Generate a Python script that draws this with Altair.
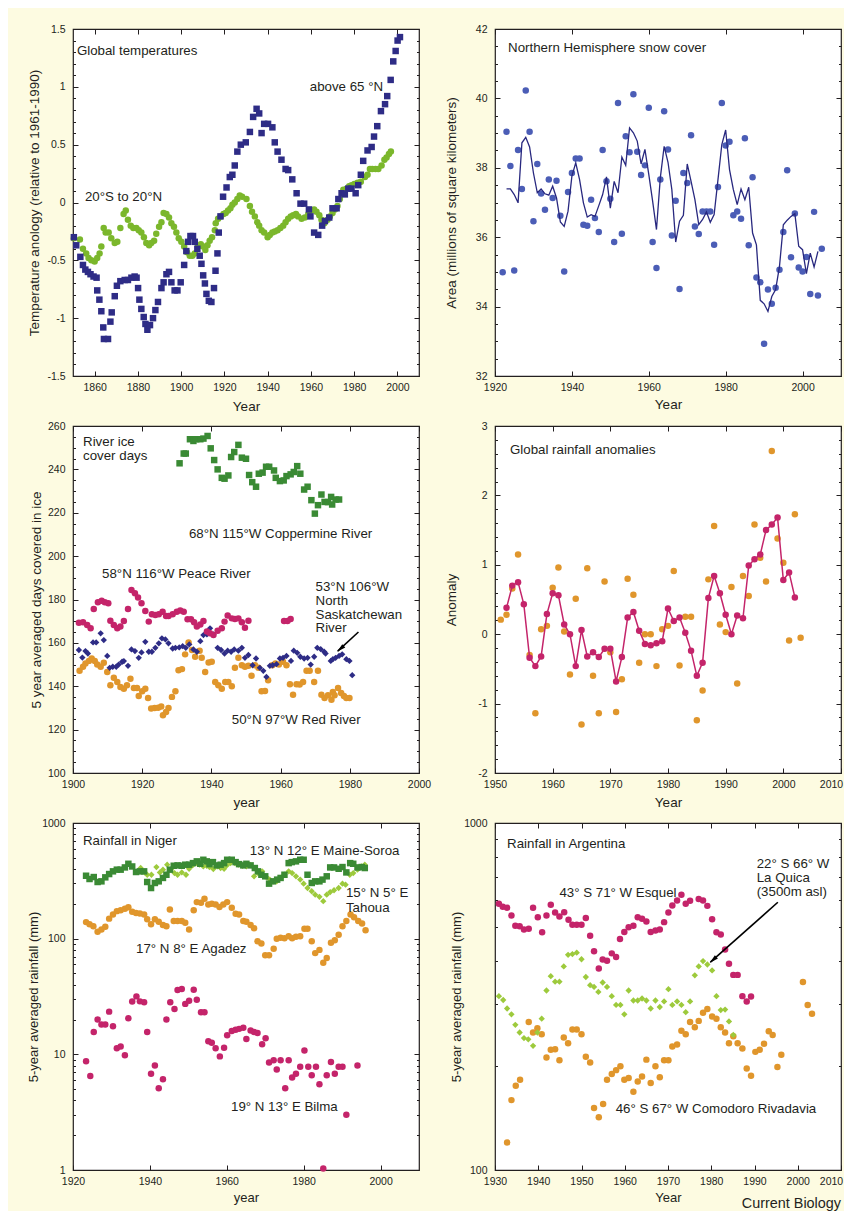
import altair as alt
import pandas as pd

# ---------------- data ----------------
# Panel 1: global temperatures
arctic_year = [1850.4,1851.5,1853.4,1854.6,1855.7,1856.9,1858.1,1859.5,1860.9,1861.2,
               1862.2,1863.1,1864.0,1864.3,1866.2,1867.3,1867.9,1869.3,1870.3,1871.9,
               1873.9,1875.4,1877.0,1878.5,1879.4,1880.1,1880.7,1881.6,1882.7,1883.5,
               1884.4,1885.6,1887.0,1888.1,1889.3,1890.9,1891.9,1893.2,1894.4,1895.5,
               1897.0,1898.3,1899.8,1901.4,1902.4,1903.2,1904.3,1905.5,1906.3,1907.5,
               1908.6,1909.4,1910.2,1911.0,1911.7,1912.8,1914.0,1915.2,1915.9,1916.8,
               1917.4,1918.2,1919.4,1921.0,1922.5,1923.7,1924.8,1926.0,1927.6,1929.9,
               1931.8,1933.3,1934.9,1936.1,1937.2,1938.4,1940.2,1942.2,1943.3,1944.6,
               1946.4,1948.3,1949.5,1951.4,1953.4,1955.2,1956.9,1959.1,1959.8,1961.5,
               1963.4,1965.2,1966.5,1968.5,1970.0,1971.9,1972.7,1974.2,1975.7,1977.3,
               1978.8,1980.7,1981.9,1983.1,1984.2,1986.2,1988.1,1989.2,1990.7,1992.4,
               1994.3,1995.3,1996.9,1998.1,1999.2,2000.1,2001.2]
arctic_temp = [-0.30,-0.37,-0.47,-0.54,-0.58,-0.60,-0.62,-0.64,-0.65,-0.76,
               -0.84,-0.94,-1.08,-1.18,-1.18,-1.03,-0.95,-0.81,-0.72,-0.68,
               -0.67,-0.67,-0.65,-0.64,-0.65,-0.74,-0.84,-0.92,-0.99,-1.05,
               -1.10,-1.06,-1.00,-0.93,-0.86,-0.74,-0.69,-0.62,-0.60,-0.69,
               -0.76,-0.76,-0.69,-0.54,-0.42,-0.34,-0.29,-0.29,-0.34,-0.40,
               -0.46,-0.53,-0.63,-0.70,-0.79,-0.85,-0.86,-0.74,-0.59,-0.44,
               -0.26,-0.12,0.05,0.13,0.22,0.24,0.32,0.44,0.50,0.52,
               0.61,0.74,0.81,0.77,0.60,0.68,0.68,0.65,0.52,0.44,
               0.37,0.29,0.28,0.20,0.08,-0.01,-0.01,-0.06,-0.12,-0.26,
               -0.28,-0.20,-0.16,-0.13,-0.05,-0.05,0.03,0.08,0.07,0.12,
               0.12,0.08,0.15,0.24,0.36,0.45,0.48,0.57,0.66,0.79,
               0.85,0.92,1.06,1.22,1.31,1.40,1.43]
tropic_year = [1850.4,1853.2,1854.6,1856.1,1857.2,1858.5,1860.0,1861.2,1862.3,1863.1,
               1864.2,1865.1,1866.5,1867.7,1869.3,1870.5,1871.9,1873.4,1874.4,1875.4,
               1876.7,1877.9,1879.3,1880.4,1881.6,1882.8,1883.9,1885.2,1886.2,1887.5,
               1888.5,1889.8,1890.9,1891.9,1893.2,1894.4,1895.5,1896.7,1897.8,1898.9,
               1900.1,1901.4,1902.7,1904.0,1905.2,1906.3,1907.8,1909.1,1910.2,1911.2,
               1912.2,1913.2,1914.3,1915.6,1916.0,1917.1,1918.3,1919.6,1920.6,1921.7,
               1922.8,1923.7,1924.8,1926.0,1927.1,1928.2,1930.2,1931.8,1932.8,1934.1,
               1935.2,1936.1,1937.2,1938.4,1940.0,1941.0,1942.2,1943.3,1944.6,1945.9,
               1947.2,1948.3,1949.5,1950.7,1951.8,1953.1,1954.1,1955.7,1957.2,1958.8,
               1960.3,1961.5,1962.6,1963.9,1964.9,1966.2,1967.7,1968.8,1970.0,1971.1,
               1972.3,1973.4,1975.0,1976.5,1977.7,1978.8,1980.1,1981.6,1983.1,1985.0,
               1986.2,1987.3,1988.4,1989.9,1991.2,1992.7,1994.0,1995.0,1996.1,1997.0]
tropic_temp = [-0.31,-0.32,-0.40,-0.44,-0.48,-0.50,-0.51,-0.48,-0.44,-0.38,
               -0.22,-0.26,-0.26,-0.31,-0.35,-0.34,-0.22,-0.10,-0.07,-0.15,
               -0.20,-0.22,-0.22,-0.24,-0.26,-0.30,-0.35,-0.37,-0.35,-0.33,
               -0.27,-0.21,-0.17,-0.09,-0.10,-0.13,-0.18,-0.21,-0.26,-0.31,
               -0.34,-0.38,-0.43,-0.46,-0.46,-0.44,-0.38,-0.36,-0.38,-0.41,
               -0.37,-0.33,-0.30,-0.24,-0.18,-0.14,-0.12,-0.10,-0.09,-0.07,
               -0.05,-0.02,0.00,0.03,0.06,0.05,0.03,-0.03,-0.08,-0.12,
               -0.17,-0.20,-0.24,-0.26,-0.30,-0.28,-0.26,-0.25,-0.24,-0.22,
               -0.20,-0.17,-0.14,-0.12,-0.11,-0.10,-0.12,-0.14,-0.13,-0.10,
               -0.07,-0.06,-0.08,-0.11,-0.15,-0.18,-0.15,-0.12,-0.09,-0.06,
               -0.03,0.03,0.11,0.12,0.14,0.15,0.16,0.17,0.18,0.22,
               0.24,0.29,0.29,0.29,0.29,0.32,0.37,0.39,0.42,0.44]

# Panel 2: Northern Hemisphere snow cover
snow_year = list(range(1922, 2006))
snow_area = [34.99,39.04,38.05,35.04,38.51,37.39,40.23,39.04,36.46,38.11,
             37.26,36.79,37.66,37.13,37.63,36.62,35.01,37.30,37.85,38.27,
             38.27,36.36,36.33,37.08,36.55,36.15,38.51,37.61,37.11,35.86,
             39.87,36.10,38.91,38.45,40.12,38.46,37.79,38.07,39.73,35.86,
             35.11,37.66,39.63,38.53,36.05,37.05,34.51,37.85,37.56,38.94,
             36.31,36.09,36.74,36.74,36.74,35.78,37.45,39.87,38.64,38.75,
             36.63,36.74,36.53,38.85,35.77,37.73,34.84,34.70,32.93,34.49,
             34.08,34.54,35.06,36.15,37.93,35.42,36.68,35.13,35.01,35.43,
             34.36,36.73,34.32,35.67]
snow_run_year = list(range(1923, 2005))
snow_run = [37.39,37.39,37.23,36.99,38.72,38.88,38.60,37.85,37.28,37.39,
            37.25,37.21,37.47,37.13,36.44,36.31,36.75,37.76,38.14,37.66,
            36.99,36.58,36.65,36.60,36.91,37.23,37.74,36.84,37.61,37.28,
            38.31,38.07,39.15,39.01,38.77,38.11,38.53,37.81,37.04,36.22,
            37.71,38.62,38.16,37.37,35.86,36.46,36.63,38.11,37.61,37.08,
            36.36,36.51,36.73,36.43,36.65,37.66,38.67,39.09,37.95,37.37,
            36.94,37.39,37.08,37.44,36.12,35.78,34.18,34.08,33.86,34.29,
            34.49,35.16,36.36,36.49,36.60,36.68,35.74,35.64,34.95,35.54,
            35.14,35.59]

# Panel 3: river ice cover days
copper_year = [1930.8,1932.0,1932.6,1933.8,1934.8,1935.6,1936.8,1937.7,1938.9,1939.8,
               1940.8,1941.8,1943.0,1943.8,1944.9,1945.7,1946.6,1947.8,1948.8,1950.0,
               1950.9,1951.8,1952.9,1953.7,1954.8,1955.8,1956.7,1958.1,1958.6,1959.8,
               1960.9,1961.7,1962.9,1963.8,1964.8,1965.7,1966.8,1967.8,1968.9,1969.9,
               1970.8,1971.8,1972.7,1973.7,1974.6,1974.9,1975.9,1976.9]
copper_days = [242.8,247.3,247.3,253.9,253.1,253.9,253.9,254.2,255.4,249.7,
               244.3,240.0,236.1,235.7,237.2,245.7,248.0,251.3,245.4,244.9,
               237.4,234.1,232.0,238.0,238.5,241.2,241.2,239.5,236.1,234.6,
               234.9,236.9,237.7,238.8,241.5,238.0,230.7,232.0,225.8,219.6,
               223.5,228.4,225.0,224.9,227.3,223.8,226.1,226.1]
peace_year = [1901.7,1902.9,1904.1,1905.1,1906.0,1907.2,1908.3,1909.2,1910.2,1910.8,
              1911.8,1912.8,1913.7,1914.7,1915.9,1916.9,1917.9,1918.8,1919.8,1920.9,
              1921.9,1922.8,1923.8,1924.8,1925.9,1926.9,1927.6,1928.8,1930.0,1931.0,
              1932.0,1933.1,1934.1,1935.0,1935.8,1936.8,1937.7,1938.7,1939.6,1940.6,
              1941.8,1943.0,1943.8,1944.7,1945.9,1946.8,1947.8,1948.8,1949.7,1950.7,
              1961.0,1962.0,1962.9]
peace_days = [169.3,169.5,168.2,166.7,175.6,178.7,179.4,178.7,178.3,170.2,
              168.2,166.7,167.5,170.1,175.6,184.4,182.9,180.9,178.3,174.7,
              169.8,173.2,172.9,173.2,174.4,172.4,172.4,173.2,174.4,174.9,
              174.4,170.9,170.9,169.5,167.5,168.5,170.1,165.2,164.4,163.6,
              165.6,166.7,169.8,172.6,171.3,171.0,171.3,169.5,167.0,170.2,
              170.1,170.1,171.0]
sask_year = [1901.7,1902.7,1903.6,1904.3,1905.8,1906.7,1908.0,1908.9,1909.9,1910.6,
             1911.5,1912.5,1913.2,1914.2,1914.7,1915.9,1916.9,1917.9,1919.0,1919.8,
             1920.9,1921.9,1922.8,1923.8,1924.8,1925.7,1926.7,1927.6,1928.8,1929.6,
             1930.7,1931.7,1932.6,1933.6,1934.8,1935.8,1936.8,1937.7,1938.7,1939.6,
             1940.6,1941.8,1942.8,1943.8,1944.7,1945.7,1946.6,1947.8,1948.8,1949.7,
             1950.7,1951.9,1952.9,1954.0,1955.0,1955.9,1956.9,1957.7,1958.8,1959.8,
             1960.7,1961.7,1963.0,1963.8,1964.8,1965.7,1966.8,1967.8,1968.7,1969.7,
             1970.6,1971.6,1972.6,1973.0,1974.5,1975.1,1975.9,1976.9,1977.8,1979.0,
             1979.9,1980.7]
sask_days = [156.7,153.2,156.2,155.1,160.2,160.2,164.4,161.3,154.0,148.5,
             149.0,149.0,150.0,151.3,151.6,149.4,157.0,156.2,153.1,155.6,
             160.5,155.9,155.9,157.7,159.8,162.1,161.6,159.8,157.4,157.7,
             157.9,158.5,157.7,159.3,157.0,155.9,160.8,163.6,163.9,166.7,
             163.9,157.7,156.7,155.1,156.4,155.9,157.0,156.4,157.7,153.1,
             154.4,149.7,152.8,148.5,147.1,144.3,149.4,149.7,150.2,152.8,
             153.1,154.0,151.7,156.4,155.4,153.6,152.8,153.1,150.0,153.6,
             157.7,157.1,155.9,155.1,151.7,152.5,153.1,154.0,154.7,152.5,
             151.7,145.1]
red_year = [1901.9,1902.9,1903.6,1904.6,1905.4,1906.3,1907.0,1908.0,1908.9,1909.9,
            1910.8,1911.8,1912.8,1913.7,1914.7,1915.6,1916.6,1917.6,1918.5,1919.0,
            1920.0,1920.9,1921.7,1922.6,1923.6,1924.6,1925.5,1926.0,1926.9,1927.6,
            1928.6,1929.6,1930.5,1931.5,1932.4,1933.4,1934.4,1935.3,1936.6,1937.2,
            1938.2,1939.2,1940.1,1941.1,1942.0,1943.0,1944.0,1944.9,1945.9,1946.8,
            1947.8,1948.8,1949.7,1950.7,1951.6,1952.6,1953.6,1954.5,1955.5,1956.4,
            1957.6,1958.5,1959.5,1960.7,1961.7,1962.7,1963.6,1964.6,1965.5,1966.5,
            1967.5,1968.4,1969.7,1970.8,1971.8,1972.7,1973.7,1974.7,1975.1,1975.6,
            1976.6,1977.5,1978.3,1979.0,1979.9]
red_days = [147.1,149.0,150.5,151.7,152.8,151.7,150.0,149.0,150.8,146.6,
            140.5,143.9,142.0,139.7,138.9,140.5,143.5,139.2,139.2,135.5,
            137.7,138.9,134.6,129.7,130.0,130.1,130.7,126.6,128.1,130.0,
            135.1,137.7,147.4,147.9,154.7,160.2,156.7,153.6,156.4,153.1,
            146.6,151.0,151.3,142.0,140.5,138.9,142.0,142.0,140.0,148.5,
            153.1,149.7,149.0,149.4,144.8,149.7,148.5,137.7,137.8,142.8,
            149.7,150.5,150.0,151.3,149.7,140.9,136.1,140.9,140.8,142.0,
            147.1,147.1,142.0,147.1,136.1,134.6,135.8,133.8,137.4,135.8,
            139.2,136.9,135.5,134.6,134.6]

# Panel 4: global rainfall anomalies
rain_line_year = list(range(1952, 2003))
rain_line = [0.38,0.70,0.75,0.43,-0.34,-0.46,-0.32,0.29,0.59,0.56,
             0.14,0.00,-0.46,0.06,-0.32,-0.26,-0.33,-0.21,-0.21,-0.68,
             -0.33,0.24,0.32,0.05,-0.14,-0.16,-0.13,-0.10,0.37,0.19,
             0.24,0.02,-0.24,-0.60,-0.41,0.52,0.84,0.59,0.28,0.00,
             0.27,0.23,0.99,1.08,1.15,1.50,1.58,1.68,0.78,0.89,
             0.53]
rain_pts_year = [1951, 1952, 1953, 1954] + list(range(1956, 2004))
rain_pts = [0.21,0.28,0.66,1.15,-0.30,-1.14,0.07,0.12,0.67,0.96,
            0.04,-0.58,0.51,-1.30,0.95,-0.60,-1.14,0.76,-0.26,-1.12,
            -0.65,0.80,0.57,-0.41,0.00,0.00,-0.46,0.07,0.12,0.91,
            -0.45,0.25,0.25,-1.24,-0.81,0.79,1.56,0.14,0.03,0.68,
            -0.71,0.84,0.55,1.58,1.10,0.76,2.64,1.38,1.03,-0.09,
            1.73,-0.05]

# Panel 5: rainfall in Niger (mm)
maine_year = [1923.4,1924.3,1925.4,1926.4,1927.4,1928.4,1929.4,1930.4,1931.4,1932.4,
              1933.5,1934.4,1935.4,1936.4,1937.4,1938.5,1939.3,1940.3,1941.3,1942.3,
              1943.4,1944.3,1945.2,1946.2,1947.2,1948.3,1949.2,1950.2,1951.2,1952.2,
              1953.1,1953.9,1954.8,1955.5,1956.4,1957.4,1958.4,1959.3,1960.1,1961.3,
              1962.3,1963.2,1964.3,1965.1,1966.2,1967.3,1968.1,1969.0,1970.0,1971.0,
              1972.0,1973.1,1974.0,1975.0,1976.1,1976.9,1978.0,1979.1,1980.0,1981.0,
              1982.1,1983.0,1984.1,1984.9,1986.0,1986.9,1987.9,1989.1,1990.1,1991.1,
              1992.1,1992.9,1994.0,1995.1,1995.9]
maine_rain = [350,328,341,309,313,339,362,382,395,395,
              413,444,421,377,382,382,309,274,303,313,
              335,357,395,427,430,427,436,436,450,466,
              444,481,466,441,459,430,436,450,481,481,
              459,441,430,444,430,408,382,357,346,299,
              313,324,335,357,450,459,466,481,481,357,
              303,313,313,324,346,413,413,402,416,374,
              450,444,413,416,408]
tahoua_year = [1937.6,1938.6,1939.3,1940.4,1941.7,1942.6,1943.4,1944.5,1945.5,1946.4,
               1947.2,1948.3,1949.4,1950.2,1951.1,1952.2,1952.9,1953.9,1954.8,1955.5,
               1956.5,1957.6,1958.4,1959.3,1960.0,1961.0,1962.1,1963.0,1964.1,1965.1,
               1966.0,1967.1,1968.1,1969.2,1970.3,1971.2,1972.2,1973.0,1974.0,1975.0,
               1976.1,1977.0,1978.0,1979.1,1980.0,1981.0,1982.1,1983.0,1984.1,1985.1,
               1986.0,1986.9,1987.9,1989.1,1990.1,1990.9,1992.0,1992.9,1994.0,1995.0,
               1995.9]
tahoua_rain = [408,374,357,357,416,374,395,436,395,369,
               357,374,357,402,430,450,436,421,427,416,
               400,421,408,402,430,450,450,436,427,421,
               436,346,369,382,341,324,313,313,335,357,
               382,369,346,324,299,274,257,240,230,211,
               240,253,262,274,299,293,357,369,395,421,
               436]
agadez_year = [1923.4,1924.3,1925.3,1926.4,1927.4,1928.4,1929.4,1930.4,1931.4,1932.4,
               1933.5,1934.4,1935.4,1936.4,1937.4,1938.5,1939.3,1940.3,1941.3,1942.3,
               1943.4,1944.3,1945.2,1946.2,1947.2,1948.3,1949.2,1950.2,1951.4,1952.2,
               1953.3,1954.2,1955.2,1956.1,1957.1,1958.1,1959.1,1960.1,1961.3,1962.3,
               1963.2,1964.3,1965.1,1966.2,1967.1,1968.0,1969.0,1970.0,1971.0,1972.2,
               1973.0,1974.0,1975.0,1976.1,1977.0,1978.0,1979.1,1980.2,1981.0,1982.1,
               1983.0,1984.1,1985.1,1986.0,1987.1,1988.1,1989.1,1990.1,1991.1,1992.2,
               1993.1,1994.2,1995.2,1996.1]
agadez_rain = [139,133,128,115,120,127,149,162,173,176,
               181,187,171,167,165,162,147,133,147,140,
               131,128,179,142,142,142,137,120,176,207,
               204,221,197,200,197,188,197,207,185,164,
               162,142,140,131,123,95,91,72,72,82,
               100,102,101,105,101,104,105,122,122,95,
               75,80,62,68,92,97,108,128,142,162,
               153,142,135,118]
bilma_year = [1923.4,1924.5,1925.4,1926.4,1927.4,1928.4,1929.4,1930.4,1931.4,1932.4,
              1933.5,1934.4,1935.4,1936.5,1937.4,1938.5,1939.3,1940.3,1941.3,1942.3,
              1943.4,1944.3,1945.3,1946.4,1947.2,1948.3,1949.2,1950.2,1951.4,1952.2,
              1953.3,1954.2,1955.2,1956.1,1957.1,1958.2,1959.3,1960.1,1961.3,1962.3,
              1963.2,1964.3,1965.1,1966.2,1967.1,1968.0,1969.2,1970.1,1971.0,1972.2,
              1973.0,1974.0,1975.2,1976.1,1977.0,1978.0,1979.1,1980.2,1981.2,1982.1,
              1983.2,1984.1,1985.1,1986.0,1987.1,1988.1,1989.1,1990.1,1991.1,1994.0]
bilma_rain = [8.7,6.5,15.6,20.0,18.1,18.1,23.4,17.5,11.3,11.7,
              9.8,20.5,28.6,31.7,28.7,28.2,15.6,6.8,8.0,5.1,
              6.1,20.0,28.2,24.7,36.0,36.7,27.3,29.1,36.2,29.7,
              23.1,23.1,13.0,12.6,11.3,9.6,11.4,14.6,15.9,16.3,
              16.6,17.0,13.6,16.1,15.6,15.3,12.2,13.8,8.5,8.9,
              7.4,8.9,5.1,8.9,6.3,6.8,7.8,10.8,7.8,6.6,
              7.8,5.5,1.03,6.6,8.6,6.8,7.8,7.8,3.0,8.0]

# Panel 6: rainfall in Argentina (mm)
esquel_year = [1930.9,1931.8,1932.8,1933.8,1934.7,1935.7,1936.7,1937.8,1938.8,1939.9,
               1940.9,1941.9,1942.9,1943.9,1944.9,1946.0,1947.0,1947.9,1948.9,1950.0,
               1951.0,1952.0,1952.9,1954.0,1954.9,1955.9,1957.0,1958.0,1958.9,1959.9,
               1960.9,1962.0,1963.0,1964.0,1965.0,1966.0,1967.1,1968.1,1969.1,1970.1,
               1971.0,1972.1,1973.1,1974.1,1975.1,1977.1,1978.1,1979.1,1980.2,1981.2,
               1982.2,1983.2,1984.1,1985.1,1986.1,1987.2,1988.2,1989.2]
esquel_rain = [585,574,570,541,506,504,493,496,570,535,
               484,541,581,552,538,553,526,509,509,509,
               532,473,427,381,404,401,421,411,463,485,
               501,506,535,530,520,485,490,493,518,552,
               578,598,621,585,597,604,598,577,528,484,
               477,432,393,365,365,317,306,316]
quica_year = [1930.9,1931.9,1932.8,1933.8,1934.7,1935.7,1936.7,1937.7,1938.8,1939.8,
              1940.8,1941.9,1942.9,1943.9,1944.9,1945.9,1946.9,1947.9,1948.9,1950.0,
              1951.0,1952.0,1952.9,1953.9,1954.9,1955.9,1957.0,1958.0,1959.0,1959.9,
              1960.9,1962.0,1963.0,1964.0,1965.0,1966.0,1967.1,1968.1,1969.1,1970.1,
              1971.0,1972.1,1973.1,1974.1,1975.1,1976.2,1977.1,1978.1,1979.1,1980.2,
              1981.2,1982.2,1983.2,1984.1,1985.1]
quica_rain = [317,309,292,281,262,249,240,238,228,249,
              273,329,362,349,349,386,417,419,423,405,
              360,341,337,326,347,337,317,299,299,281,
              329,308,308,312,308,292,308,295,306,332,
              299,306,299,285,306,364,386,400,391,376,
              317,289,290,268,245]
comodoro_year = [1932.8,1933.8,1934.8,1935.8,1937.8,1938.8,1939.8,1940.8,1941.9,1942.9,
                 1943.9,1944.9,1945.9,1946.9,1947.9,1948.9,1950.0,1951.0,1952.0,1952.9,
                 1954.0,1955.0,1955.9,1957.0,1958.0,1959.0,1959.9,1960.9,1962.0,1963.0,
                 1964.0,1965.0,1966.0,1967.1,1968.1,1969.1,1970.1,1971.0,1972.1,1973.1,
                 1974.1,1975.1,1976.2,1977.1,1978.1,1979.1,1980.2,1981.2,1982.2,1983.2,
                 1984.1,1985.1,1986.1,1987.2,1988.2,1989.2,1990.2,1991.2,1992.2,1993.3,
                 1994.2,1995.3,1996.2,2001.2,2002.3,2003.3]
comodoro_rain = [120,159,175,182,267,249,256,246,211,222,
                 223,207,241,232,254,254,246,212,204,151,
                 142,155,182,189,194,199,182,184,168,180,
                 186,208,178,199,185,207,207,227,230,252,
                 246,267,258,269,284,291,277,273,258,249,
                 232,243,232,224,196,187,219,222,231,251,
                 245,198,215,348,299,282]

# ---------------- styling ----------------
FONT = "Liberation Sans"
INK = "#231f20"
BG = "#fdfbe1"
NAVY = "#2e2c86"
LEAF = "#7bb72c"
SNOWDOT = "#4b5db6"
SNOWLINE = "#28287f"
DKGREEN = "#3a8a34"
LTGREEN = "#9dca3c"
MAGENTA = "#c4246a"
ORANGE = "#e0962c"
W, H = 346, 347
MAJ, MIN = 5, 2.5
ANN = 13.3
DOT = 42


def lin(dom):
    return alt.Scale(domain=dom, nice=False, zero=False)


def logsc(dom):
    return alt.Scale(type="log", domain=dom, nice=False)


def frame(xs, ys, xdom, ydom, xmaj, ymaj, ymin, xtitle, ytitle, title_x,
          lab=10.5, tit=13.5, title_y=23, pull_last=False):
    # invisible carrier: one point in the middle of the plot area
    ymid = (ydom[0] * ydom[1]) ** 0.5 if ydom[0] > 0 else (ydom[0] + ydom[1]) / 2
    d = pd.DataFrame({"x": [(xdom[0] + xdom[1]) / 2], "y": [ymid]})
    base = alt.Chart(d).mark_point(opacity=0, size=1)
    xaxis = dict(
        orient="bottom", values=xmaj, title=xtitle, labelExpr="datum.value + ''",
        ticks=False, domain=False, grid=False, labelFlush=False, labelOverlap=False,
        labelPadding=6, labelFont=FONT, labelFontSize=lab, labelColor=INK,
        titleFont=FONT, titleFontSize=tit, titleFontWeight="normal", titleColor=INK,
        titleY=title_y, titleBaseline="top", minExtent=0)
    if pull_last:
        # keep the right-most year label inside the page
        xaxis["labelOffset"] = alt.condition(f"datum.value == {xdom[1]}",
                                             alt.value(-10), alt.value(0))
    main = base.encode(
        x=alt.X("x:Q", scale=xs, axis=alt.Axis(**xaxis)),
        y=alt.Y("y:Q", scale=ys, axis=alt.Axis(
            orient="left", values=ymaj, title=ytitle, labelExpr="datum.value + ''",
            ticks=False, domain=False, grid=False, labelFlush=False, labelOverlap=False,
            labelPadding=8, labelFont=FONT, labelFontSize=lab, labelColor=INK,
            titleFont=FONT, titleFontSize=tit, titleFontWeight="normal", titleColor=INK,
            titleX=title_x, titleY=H / 2, titleAngle=270, titleBaseline="bottom",
            titleAlign="center", minExtent=0)),
    )

    def tick(orient, vals, size):
        return alt.Axis(orient=orient, values=vals, offset=-size, tickSize=size,
                        tickColor=INK, tickWidth=1, labels=False, domain=False,
                        grid=False, title=None, minExtent=0, maxExtent=size)

    t1 = base.encode(x=alt.X("x:Q", scale=xs, axis=tick("bottom", xmaj, MAJ)),
                     y=alt.Y("y:Q", scale=ys, axis=tick("left", ymaj, MAJ)))
    t2 = base.encode(x=alt.X("x:Q", scale=xs, axis=tick("top", xmaj, MAJ)),
                     y=alt.Y("y:Q", scale=ys, axis=tick("right", ymaj, MAJ)))
    t3 = base.encode(x=alt.X("x:Q", scale=xs, axis=None),
                     y=alt.Y("y:Q", scale=ys, axis=tick("left", ymin, MIN)))
    t4 = base.encode(x=alt.X("x:Q", scale=xs, axis=None),
                     y=alt.Y("y:Q", scale=ys, axis=tick("right", ymin, MIN)))
    return [main, t1, t2, t3, t4]


def pts(xs, ys, years, vals, color, shape, size=DOT):
    df = pd.DataFrame({"year": years, "v": vals})
    return alt.Chart(df).mark_point(shape=shape, filled=True, size=size, color=color,
                                    opacity=1, strokeWidth=0).encode(
        x=alt.X("year:Q", scale=xs, axis=None), y=alt.Y("v:Q", scale=ys, axis=None))


def line(xs, ys, years, vals, color, width):
    df = pd.DataFrame({"year": years, "v": vals})
    return alt.Chart(df).mark_line(color=color, strokeWidth=width).encode(
        x=alt.X("year:Q", scale=xs, axis=None), y=alt.Y("v:Q", scale=ys, axis=None))


def texts(xs, ys, rows, align="left", baseline="middle", size=ANN, lh=14):
    df = pd.DataFrame(rows, columns=["x", "y", "t"])
    return alt.Chart(df).mark_text(align=align, baseline=baseline, font=FONT, fontSize=size,
                                   color=INK, lineBreak="\n", lineHeight=lh).encode(
        x=alt.X("x:Q", scale=xs, axis=None), y=alt.Y("y:Q", scale=ys, axis=None), text="t:N")


def arrow(xs, ys, tail, head, tip):
    df = pd.DataFrame({"x": [tail[0]], "y": [tail[1]], "x2": [head[0]], "y2": [head[1]]})
    shaft = alt.Chart(df).mark_rule(color="black", strokeWidth=1.6).encode(
        x=alt.X("x:Q", scale=xs, axis=None), y=alt.Y("y:Q", scale=ys, axis=None),
        x2="x2:Q", y2="y2:Q")
    hd = pd.DataFrame({"x": [tip[0]], "y": [tip[1]]})
    point = alt.Chart(hd).mark_point(shape="M0,-1L0.45,0.8L-0.45,0.8Z", angle=228, size=100,
                                     filled=True, color="black", opacity=1, strokeWidth=0).encode(
        x=alt.X("x:Q", scale=xs, axis=None), y=alt.Y("y:Q", scale=ys, axis=None))
    return [shaft, point]


def panel(layers):
    return alt.layer(*layers).properties(width=W, height=H).resolve_axis(
        x="independent", y="independent")


# ---- Panel 1 ----
xs1, ys1 = lin([1850, 2010]), lin([-1.5, 1.5])
p1 = panel(
    frame(xs1, ys1, [1850, 2010], [-1.5, 1.5], list(range(1860, 2001, 20)),
          [-1.5, -1, -0.5, 0, 0.5, 1, 1.5], [round(-1.5 + 0.1 * i, 1) for i in range(31)],
          "Year", "Temperature anology (relative to 1961-1990)", -32)
    + [pts(xs1, ys1, tropic_year, tropic_temp, LEAF, "circle"),
       pts(xs1, ys1, arctic_year, arctic_temp, NAVY, "square"),
       texts(xs1, ys1, [[1851.8, 1.31, "Global temperatures"], [1855.5, 0.05, "20°S to 20°N"]]),
       texts(xs1, ys1, [[1993.4, 1.0, "above 65 °N"]], align="right")]
)

# ---- Panel 2 ----
xs2, ys2 = lin([1920, 2010]), lin([32, 42])
p2 = panel(
    frame(xs2, ys2, [1920, 2010], [32, 42], list(range(1920, 2001, 20)),
          [32, 34, 36, 38, 40, 42], [32 + 0.5 * i for i in range(21)],
          "Year", "Area (millions of square kilometers)", -37, title_y=21)
    + [pts(xs2, ys2, snow_year, snow_area, SNOWDOT, "circle"),
       line(xs2, ys2, snow_run_year, snow_run, SNOWLINE, 1.3),
       texts(xs2, ys2, [[1923.4, 41.44, "Northern Hemisphere snow cover"]])]
)

# ---- Panel 3 ----
xs3, ys3 = lin([1900, 2000]), lin([100, 260])
p3 = panel(
    frame(xs3, ys3, [1900, 2000], [100, 260], list(range(1900, 2001, 20)),
          list(range(100, 261, 20)), list(range(100, 261, 5)),
          "year", "5 year averaged days covered in ice", -30, title_y=22)
    + [pts(xs3, ys3, red_year, red_days, ORANGE, "circle"),
       pts(xs3, ys3, sask_year, sask_days, NAVY, "diamond", 40),
       pts(xs3, ys3, peace_year, peace_days, MAGENTA, "circle"),
       pts(xs3, ys3, copper_year, copper_days, DKGREEN, "square"),
       texts(xs3, ys3, [[1902.9, 255.8, "River ice\ncover days"],
                        [1970.1, 189.0, "53°N 106°W\nNorth\nSaskatchewan\nRiver"]],
             baseline="top", lh=13.8),
       texts(xs3, ys3, [[1933.5, 210.2, "68°N 115°W Coppermine River"],
                        [1908.4, 191.8, "58°N 116°W Peace River"],
                        [1945.9, 124.5, "50°N 97°W Red River"]])]
    + arrow(xs3, ys3, (1982.5, 165.0), (1976.5, 156.2), (1977.4, 157.4))
)

# ---- Panel 4 ----
xs4, ys4 = lin([1950, 2010]), lin([-2, 3])
p4 = panel(
    frame(xs4, ys4, [1950, 2010], [-2, 3], list(range(1950, 2011, 10)),
          [-2, -1, 0, 1, 2, 3], [round(-2 + 0.2 * i, 1) for i in range(26)],
          "Year", "Anomaly", -37, title_y=22, pull_last=True)
    + [pts(xs4, ys4, rain_pts_year, rain_pts, ORANGE, "circle"),
       line(xs4, ys4, rain_line_year, rain_line, MAGENTA, 1.5),
       pts(xs4, ys4, rain_line_year, rain_line, MAGENTA, "circle"),
       texts(xs4, ys4, [[1952.6, 2.65, "Global rainfall anomalies"]])]
)

# ---- Panel 5 ----
xs5, ys5 = lin([1920, 2010]), logsc([1, 1000])
minor5 = [m * d for d in (1, 10, 100) for m in range(2, 10)]
p5 = panel(
    frame(xs5, ys5, [1920, 2010], [1, 1000], list(range(1920, 2001, 20)),
          [1, 10, 100, 1000], minor5,
          "year", "5-year averaged rainfall (mm)", -33, lab=10.5, tit=13, title_y=21)
    + [pts(xs5, ys5, bilma_year, bilma_rain, MAGENTA, "circle"),
       pts(xs5, ys5, agadez_year, agadez_rain, ORANGE, "circle"),
       pts(xs5, ys5, tahoua_year, tahoua_rain, LTGREEN, "diamond", 40),
       pts(xs5, ys5, maine_year, maine_rain, DKGREEN, "square"),
       texts(xs5, ys5, [[1922.6, 700, "Rainfall in Niger"],
                        [1966.0, 574, "13° N 12° E Maine-Soroa"],
                        [1936.4, 82, "17° N 8° E Agadez"],
                        [1961.1, 3.49, "19° N 13° E Bilma"]]),
       texts(xs5, ys5, [[1991.0, 284, "15° N 5° E\nTahoua"]], baseline="top", lh=14.5)]
)

# ---- Panel 6 ----
xs6, ys6 = lin([1930, 2010]), logsc([100, 1000])
p6 = panel(
    frame(xs6, ys6, [1930, 2010], [100, 1000], list(range(1930, 2011, 10)),
          [100, 1000], [200, 300, 400, 500, 600, 700, 800, 900],
          "Year", "5-year averaged rainfall (mm)", -32, lab=10.5, tit=13, title_y=21,
          pull_last=True)
    + [pts(xs6, ys6, esquel_year, esquel_rain, MAGENTA, "circle"),
       pts(xs6, ys6, comodoro_year, comodoro_rain, ORANGE, "circle"),
       pts(xs6, ys6, quica_year, quica_rain, LTGREEN, "diamond", 40),
       texts(xs6, ys6, [[1932.8, 870, "Rainfall in Argentina"],
                        [1944.9, 629, "43° S 71° W Esquel"],
                        [1957.9, 150, "46° S 67° W Comodoro Rivadavia"]]),
       texts(xs6, ys6, [[1990.5, 796, "22° S 66° W\nLa Quica\n(3500m asl)"]],
             baseline="top", lh=14),
       alt.Chart(pd.DataFrame({"t": ["Current Biology"]})).mark_text(
           align="right", baseline="middle", font=FONT, fontSize=14.4, color=INK).encode(
           text="t:N", x=alt.value(W), y=alt.value(H + 34))]
    + arrow(xs6, ys6, (1995.4, 591), (1979.8, 397), (1980.5, 404))
)

chart = alt.concat(p1, p2, p3, p4, p5, p6, columns=2,
                   spacing={"row": 50, "column": 76}, bounds="flush").properties(
    padding={"left": 18, "top": 15, "right": 0, "bottom": 0},
    background=BG,
).configure_view(fill="white", stroke=INK, strokeWidth=1.2)

chart.save("out.html", embed_options={"renderer": "svg", "actions": False})
